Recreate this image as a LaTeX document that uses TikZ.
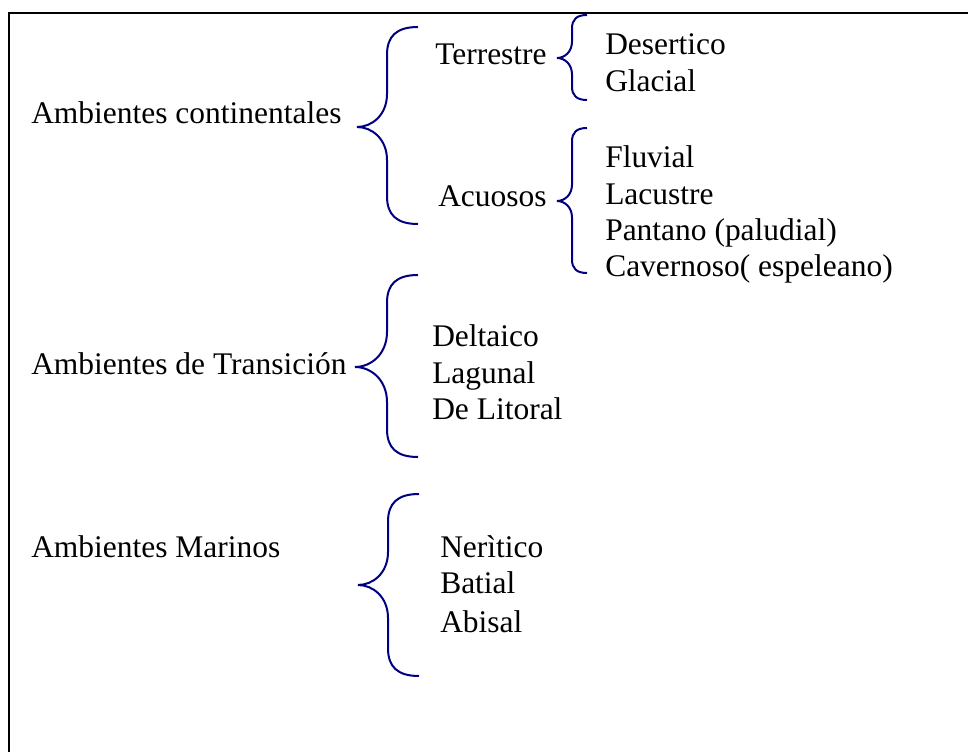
\documentclass[tikz,border=0pt]{standalone}
\usepackage{fontspec}
\setmainfont{Liberation Serif}
\usetikzlibrary{positioning}
\definecolor{bracenavy}{RGB}{0,0,128}
\tikzset{every picture/.style={x=0.75pt,y=-0.75pt},
  lbl/.style={anchor=base west,inner sep=0pt,font=\fontsize{23.6}{28}\selectfont},
  bracestroke/.style={bracenavy,line width=1.5pt},
  framestroke/.style={black,line width=1.5pt,line join=miter}}
% #1 tip x, #2 back x, #3 end x, #4 top y, #5 tip y, #6 bottom y
\newcommand{\bracepath}[6]{%
  \draw[bracestroke] (#3,#4) .. controls ({#2+0.3*(#3-#2)},#4) and (#2,{#4+0.3*(#3-#2)}) .. (#2,{#4+0.9*(#3-#2)})
    -- (#2,{#5-1.1*(#2-#1)}) .. controls (#2,{#5-0.4*(#2-#1)}) and ({#1+0.5*(#2-#1)},#5) .. (#1,#5)
    .. controls ({#1+0.5*(#2-#1)},#5) and (#2,{#5+0.4*(#2-#1)}) .. (#2,{#5+1.1*(#2-#1)})
    -- (#2,{#6-0.9*(#3-#2)}) .. controls (#2,{#6-0.3*(#3-#2)}) and ({#2+0.3*(#3-#2)},#6) .. (#3,#6);}

\begin{document}
\begin{tikzpicture}
    \useasboundingbox (0,0) rectangle (968,752);
    \draw[framestroke] (968,13) -- (9,13) -- (9,752);

    % continentales
    \node (cont) [lbl] at (31,124) {Ambientes continentales};
    \node (terr) [lbl] at (435,65) {Terrestre};
    \node (acuo) [lbl] at (438,207) {Acuosos};
    \node (desert) [lbl] at (605,55) {Desertico};
    \node (glacial) [lbl] at (605,92) {Glacial};
    \node (fluvial) [lbl] at (605,168) {Fluvial};
    \node (lacustre) [lbl] at (605,205) {Lacustre};
    \node (pantano) [lbl] at (605,241) {Pantano (paludial)};
    \node (cavern) [lbl] at (605,277) {Cavernoso( espeleano)};

    \bracepath{357}{387}{418}{27}{127}{224}
    \bracepath{557}{572}{587}{15}{58}{100}
    \bracepath{557}{572}{587}{128}{201}{273}

    % transicion
    \node (trans) [lbl] at (31,375) {Ambientes de Transición};
    \node (deltaico) [lbl] at (432,347) {Deltaico};
    \node (lagunal) [lbl] at (432,383) {Lagunal};
    \node (litoral) [lbl] at (432,420) {De Litoral};

    \bracepath{355}{387}{418}{275}{367}{457}

    % marinos
    \node (marinos) [lbl] at (31,557) {Ambientes Marinos};
    \node (neritico) [lbl] at (440,557) {Nerìtico};
    \node (batial) [lbl] at (440,593) {Batial};
    \node (abisal) [lbl] at (440,632) {Abisal};

    \bracepath{358}{388}{419}{494}{585}{676}
\end{tikzpicture}
\end{document}
